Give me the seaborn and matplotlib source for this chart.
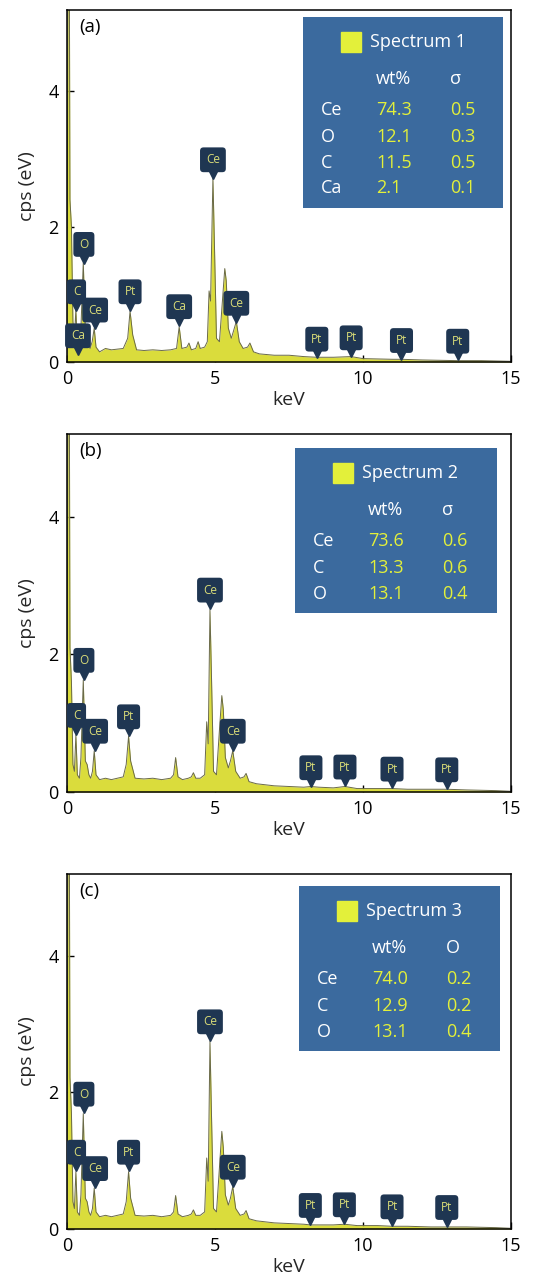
import numpy as np
import pandas as pd
import matplotlib
matplotlib.use("Agg")
import matplotlib.pyplot as plt
import seaborn as sns
from matplotlib.patches import Rectangle
from matplotlib.transforms import offset_copy

# ---------------- data ----------------
energy_a = [0.00, 0.03, 0.08, 0.10, 0.15, 0.20, 0.25, 0.30, 0.34, 0.37, 0.45, 0.55, 0.62, 0.70,
            0.78, 0.85, 0.92, 0.98, 1.10, 1.30, 1.50, 1.70, 1.90, 2.05, 2.13, 2.22, 2.35, 2.60,
            2.90, 3.20, 3.50, 3.70, 3.79, 3.88, 4.05, 4.12, 4.20, 4.35, 4.43, 4.50, 4.65, 4.74,
            4.80, 4.85, 4.93, 4.98, 5.05, 5.15, 5.25, 5.33, 5.38, 5.45, 5.55, 5.62, 5.72, 5.82,
            5.95, 6.10, 6.18, 6.30, 6.50, 7.00, 7.50, 8.00, 8.44, 9.00, 9.60, 10.0, 11.0, 11.3,
            12.0, 13.2, 14.0, 15.0]
counts_a = [0.00, 5.60, 5.60, 2.40, 2.00, 0.60, 0.35, 0.78, 0.30, 0.20, 0.25, 1.47, 0.45, 0.30,
            0.20, 0.30, 0.50, 0.22, 0.15, 0.20, 0.18, 0.19, 0.20, 0.35, 0.75, 0.40, 0.18, 0.17,
            0.18, 0.17, 0.18, 0.20, 0.52, 0.20, 0.22, 0.28, 0.18, 0.20, 0.30, 0.20, 0.22, 0.30,
            1.05, 0.90, 2.72, 1.75, 0.35, 0.30, 0.90, 1.38, 1.20, 0.50, 0.35, 0.45, 0.60, 0.30,
            0.20, 0.22, 0.28, 0.15, 0.12, 0.10, 0.10, 0.08, 0.07, 0.07, 0.08, 0.05, 0.04, 0.04,
            0.03, 0.02, 0.02, 0.01]

energy_b = [0.00, 0.03, 0.08, 0.10, 0.15, 0.20, 0.25, 0.30, 0.35, 0.42, 0.47, 0.55, 0.62, 0.68,
            0.74, 0.80, 0.86, 0.92, 0.98, 1.10, 1.30, 1.50, 1.70, 1.90, 2.00, 2.08, 2.15, 2.30,
            2.60, 2.90, 3.20, 3.50, 3.60, 3.67, 3.75, 3.90, 4.10, 4.20, 4.27, 4.35, 4.50, 4.65,
            4.72, 4.77, 4.83, 4.88, 4.95, 5.05, 5.15, 5.23, 5.28, 5.35, 5.45, 5.52, 5.60, 5.70,
            5.85, 5.98, 6.05, 6.15, 6.40, 7.00, 7.50, 8.00, 8.24, 8.50, 9.00, 9.39, 9.80, 10.5,
            10.98, 11.5, 12.3, 12.83, 13.5, 14.5, 15.0]
counts_b = [0.00, 5.60, 5.60, 2.10, 1.60, 0.40, 0.30, 0.83, 0.25, 0.20, 0.50, 1.63, 0.45, 0.40,
            0.25, 0.20, 0.30, 0.60, 0.25, 0.18, 0.20, 0.18, 0.20, 0.22, 0.40, 0.81, 0.45, 0.20,
            0.19, 0.20, 0.18, 0.20, 0.25, 0.50, 0.22, 0.18, 0.20, 0.22, 0.28, 0.20, 0.20, 0.25,
            1.02, 0.70, 2.65, 1.70, 0.30, 0.25, 0.90, 1.40, 1.20, 0.50, 0.35, 0.45, 0.60, 0.30,
            0.20, 0.22, 0.27, 0.15, 0.12, 0.09, 0.08, 0.07, 0.08, 0.07, 0.06, 0.08, 0.05, 0.05,
            0.05, 0.04, 0.04, 0.04, 0.03, 0.02, 0.01]

energy_c = [0.00, 0.03, 0.08, 0.10, 0.15, 0.20, 0.25, 0.30, 0.35, 0.42, 0.47, 0.55, 0.62, 0.68,
            0.74, 0.80, 0.86, 0.92, 0.98, 1.10, 1.30, 1.50, 1.70, 1.90, 2.00, 2.08, 2.15, 2.30,
            2.60, 2.90, 3.20, 3.50, 3.60, 3.67, 3.75, 3.90, 4.10, 4.20, 4.27, 4.35, 4.50, 4.65,
            4.72, 4.77, 4.83, 4.88, 4.95, 5.05, 5.15, 5.23, 5.28, 5.35, 5.45, 5.52, 5.60, 5.70,
            5.85, 5.98, 6.05, 6.15, 6.40, 7.00, 7.50, 8.00, 8.22, 8.50, 9.00, 9.37, 9.80, 10.5,
            10.98, 11.5, 12.3, 12.83, 13.5, 14.5, 15.0]
counts_c = [0.00, 5.60, 5.60, 2.22, 1.70, 0.40, 0.30, 0.84, 0.25, 0.20, 0.50, 1.69, 0.45, 0.40,
            0.25, 0.20, 0.30, 0.60, 0.25, 0.18, 0.20, 0.18, 0.20, 0.22, 0.40, 0.84, 0.45, 0.20,
            0.19, 0.20, 0.18, 0.20, 0.25, 0.49, 0.22, 0.18, 0.20, 0.22, 0.28, 0.20, 0.20, 0.25,
            1.04, 0.70, 2.75, 1.70, 0.30, 0.25, 0.90, 1.43, 1.20, 0.50, 0.35, 0.45, 0.62, 0.30,
            0.20, 0.22, 0.27, 0.15, 0.12, 0.09, 0.08, 0.07, 0.06, 0.06, 0.06, 0.07, 0.05, 0.05,
            0.04, 0.04, 0.03, 0.03, 0.03, 0.02, 0.01]

peak_el_a = ["Ca", "C", "O", "Ce", "Pt", "Ca", "Ce", "Ce", "Pt", "Pt", "Pt", "Pt"]
peak_x_a = [0.37, 0.32, 0.57, 0.95, 2.13, 3.79, 4.93, 5.72, 8.44, 9.60, 11.3, 13.2]
peak_y_a = [0.10, 0.75, 1.45, 0.48, 0.75, 0.53, 2.70, 0.58, 0.05, 0.07, 0.03, 0.02]

peak_el_b = ["C", "O", "Ce", "Pt", "Ce", "Ce", "Pt", "Pt", "Pt", "Pt"]
peak_x_b = [0.32, 0.57, 0.95, 2.08, 4.83, 5.60, 8.24, 9.39, 10.98, 12.83]
peak_y_b = [0.83, 1.63, 0.60, 0.81, 2.65, 0.60, 0.07, 0.08, 0.05, 0.04]

peak_el_c = ["C", "O", "Ce", "Pt", "Ce", "Ce", "Pt", "Pt", "Pt", "Pt"]
peak_x_c = [0.32, 0.57, 0.95, 2.08, 4.83, 5.60, 8.22, 9.37, 10.98, 12.83]
peak_y_c = [0.84, 1.69, 0.60, 0.84, 2.75, 0.62, 0.06, 0.07, 0.04, 0.03]

spectrum_names = ["Spectrum 1", "Spectrum 2", "Spectrum 3"]
panel_tags = ["(a)", "(b)", "(c)"]
table_head = [("wt%", "σ"), ("wt%", "σ"), ("wt%", "O")]
table_el_a = ["Ce", "O", "C", "Ca"]
table_wt_a = ["74.3", "12.1", "11.5", "2.1"]
table_sd_a = ["0.5", "0.3", "0.5", "0.1"]
table_el_b = ["Ce", "C", "O"]
table_wt_b = ["73.6", "13.3", "13.1"]
table_sd_b = ["0.6", "0.6", "0.4"]
table_el_c = ["Ce", "C", "O"]
table_wt_c = ["74.0", "12.9", "13.1"]
table_sd_c = ["0.2", "0.2", "0.4"]

x_ticks = [0, 5, 10, 15]
y_ticks = [0, 2, 4]

# ---------------- style ----------------
sns.set_theme(style="ticks")
plt.rcParams["font.family"] = ["Open Sans", "DejaVu Sans"]

FILL = "#dadc3c"
LINE = "#6a6a48"
NAVY = "#1f3652"
LABTXT = "#d9dc78"
BOXBLUE = "#3b6a9e"
YEL = "#e3f03a"

fig = plt.figure(figsize=(5.34, 12.8), dpi=100)
W, H = 534.0, 1280.0

panels = [
    dict(ax_px=(67, 10, 511, 362), e=energy_a, c=counts_a,
         pel=peak_el_a, px=peak_x_a, py=peak_y_a,
         tel=table_el_a, twt=table_wt_a, tsd=table_sd_a,
         box_px=(303, 17, 503, 208)),
    dict(ax_px=(67, 434, 511, 792), e=energy_b, c=counts_b,
         pel=peak_el_b, px=peak_x_b, py=peak_y_b,
         tel=table_el_b, twt=table_wt_b, tsd=table_sd_b,
         box_px=(295, 448, 497, 613)),
    dict(ax_px=(67, 874, 511, 1229), e=energy_c, c=counts_c,
         pel=peak_el_c, px=peak_x_c, py=peak_y_c,
         tel=table_el_c, twt=table_wt_c, tsd=table_sd_c,
         box_px=(299, 886, 500, 1051)),
]

for i, p in enumerate(panels):
    l, t, r, b = p["ax_px"]
    ax = fig.add_axes([l / W, 1 - b / H, (r - l) / W, (b - t) / H])
    df = pd.DataFrame({"keV": p["e"], "cps": p["c"]})
    ax.fill_between(df["keV"], 0, df["cps"], color=FILL, lw=0, zorder=1)
    sns.lineplot(data=df, x="keV", y="cps", ax=ax, color=LINE, lw=0.7, zorder=2)
    ax.set_xlim(0, 15)
    ax.set_ylim(0, 5.2)
    ax.set_xticks(x_ticks)
    ax.set_yticks(y_ticks)
    ax.tick_params(direction="in", length=5, width=1.0, labelsize=13, colors="black", pad=6)
    ax.set_xlabel("keV", fontsize=14, labelpad=2)
    ax.set_ylabel("cps (eV)", fontsize=14, labelpad=9)
    for s in ax.spines.values():
        s.set_color("black")
        s.set_linewidth(1.1)
        s.set_visible(True)

    # peak labels
    for el, x, y in zip(p["pel"], p["px"], p["py"]):
        tip = offset_copy(ax.transData, fig=fig, x=0, y=3.0, units="points")
        ax.plot([x], [y], marker="v", ms=5.5, color=NAVY, transform=tip, clip_on=False, zorder=5)
        ax.annotate(el, xy=(x, y), xytext=(0, 14), textcoords="offset points",
                    ha="center", va="center", fontsize=8.5, color=LABTXT, zorder=6,
                    bbox=dict(boxstyle="round,pad=0.5,rounding_size=0.3", fc=NAVY, ec="none"))

    # panel tag
    ax.text(12 / (r - l), 1 - 17 / (b - t), panel_tags[i], transform=ax.transAxes,
            ha="left", va="center", fontsize=13.5, color="black")

    # table box
    bl, bt, br, bb = p["box_px"]
    x0 = (bl - l) / (r - l)
    y0 = (b - bb) / (b - t)
    ax.add_patch(Rectangle((x0, y0), (br - bl) / (r - l), (bb - bt) / (b - t),
                           transform=ax.transAxes, fc=BOXBLUE, ec="none", zorder=7))
    topleft = (x0, (b - bt) / (b - t))

    def put(dx, dy, s, color, size=13, ha="left"):
        tr = offset_copy(ax.transAxes, fig=fig, x=dx * 0.72, y=-dy * 0.72, units="points")
        ax.text(topleft[0], topleft[1], s, transform=tr, ha=ha, va="center",
                fontsize=size, color=color, zorder=8)

    sq = offset_copy(ax.transAxes, fig=fig, x=48 * 0.72, y=-25 * 0.72, units="points")
    ax.plot([topleft[0]], [topleft[1]], marker="s", ms=15, color=YEL, transform=sq,
            clip_on=False, zorder=8)
    put(67, 25, spectrum_names[i], "white")
    put(73, 62, table_head[i][0], "white")
    put(147, 62, table_head[i][1], "white")
    row_dy = [93, 120, 146, 171]
    for j, (el, wt, sd) in enumerate(zip(p["tel"], p["twt"], p["tsd"])):
        put(18, row_dy[j], el, "white")
        put(73, row_dy[j], wt, YEL)
        put(147, row_dy[j], sd, YEL)

fig.savefig("out.png", dpi=100)
